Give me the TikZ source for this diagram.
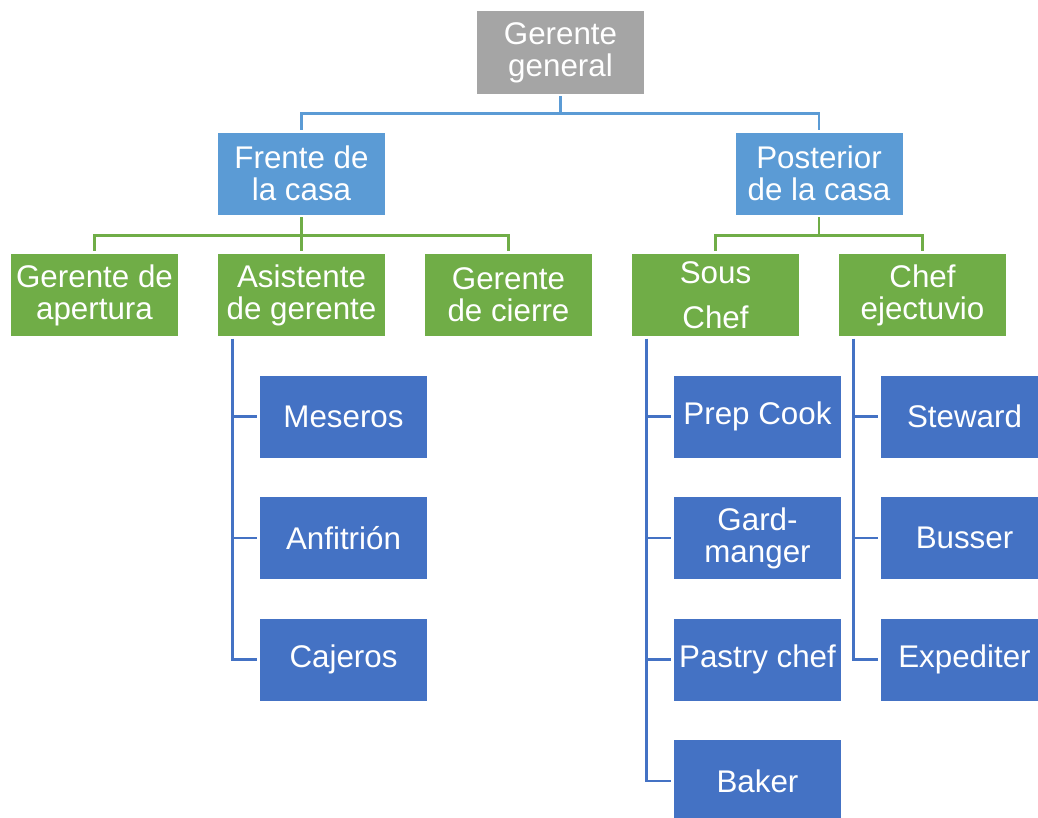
\documentclass[tikz,border=0pt]{standalone}
\usepackage{fontspec}
\setmainfont{Liberation Sans}
\definecolor{grisbox}{HTML}{A5A5A5}
\definecolor{azulbox}{HTML}{5B9BD5}
\definecolor{verdebox}{HTML}{70AD47}
\definecolor{oscurobox}{HTML}{4472C4}

\begin{document}
\begin{tikzpicture}[x=0.75pt, y=-0.75pt]
    \useasboundingbox (0,0) rectangle (1038,817);

    \begin{scope}[every node/.style={rectangle, minimum width=125.25pt, minimum height=61.5pt, inner sep=0pt, align=center, text=white, font=\fontsize{23.5}{24}\selectfont}]
        \node[fill=grisbox] (gg) at (560.5,52.5) {Gerente\\general};

        \node[fill=azulbox] (fc) at (301.5,173.5) {Frente de\\la casa};
        \node[fill=azulbox] (pc) at (819,173.5) {Posterior\\de la casa};

        \node[fill=verdebox] (ga) at (94.5,295) {Gerente de\\apertura};
        \node[fill=verdebox] (ag) at (301.5,295) {Asistente\\de gerente};
        \node[fill=verdebox] (gc) at (508.5,295) {Gerente\\de cierre};
        \node[fill=verdebox] (sc) at (715.5,295) {Sous\\[10pt]Chef};
        \node[fill=verdebox] (ce) at (922.5,295) {Chef\\ejectuvio};

        \node[fill=oscurobox] (mes) at (343.5,416.5) {Meseros};
        \node[fill=oscurobox] (anf) at (343.5,538) {Anfitrión};
        \node[fill=oscurobox] (caj) at (343.5,659.5) {Cajeros};

        \node[fill=oscurobox] (pre) at (757.5,416.5) {Prep Cook};
        \node[fill=oscurobox] (gar) at (757.5,538) {Gard-\\manger};
        \node[fill=oscurobox] (pas) at (757.5,659.5) {Pastry chef};
        \node[fill=oscurobox] (bak) at (757.5,781) {Baker};

        \node[fill=oscurobox] (ste) at (964.5,416.5) {Steward};
        \node[fill=oscurobox] (bus) at (964.5,538) {Busser};
        \node[fill=oscurobox] (exp) at (964.5,659.5) {Expediter};
    \end{scope}

    \begin{scope}[line width=2.2pt, shorten <=2pt, shorten >=2pt]
        \draw[azulbox] (gg.south) -- ++(0,20) -| (fc.north);
        \draw[azulbox] (gg.south) -- ++(0,20) -| (pc.north);

        \draw[verdebox] (fc.south) -- ++(0,21) -| (ga.north);
        \draw[verdebox] (fc.south) -- (ag.north);
        \draw[verdebox] (fc.south) -- ++(0,21) -| (gc.north);
        \draw[verdebox] (pc.south) -- ++(0,21) -| (sc.north);
        \draw[verdebox] (pc.south) -- ++(0,21) -| (ce.north);

        \draw[oscurobox] ([xshift=11.25pt]ag.south west) |- (mes.west);
        \draw[oscurobox] ([xshift=11.25pt]ag.south west) |- (anf.west);
        \draw[oscurobox] ([xshift=11.25pt]ag.south west) |- (caj.west);

        \draw[oscurobox] ([xshift=11.25pt]sc.south west) |- (pre.west);
        \draw[oscurobox] ([xshift=11.25pt]sc.south west) |- (gar.west);
        \draw[oscurobox] ([xshift=11.25pt]sc.south west) |- (pas.west);
        \draw[oscurobox] ([xshift=11.25pt]sc.south west) |- (bak.west);

        \draw[oscurobox] ([xshift=11.25pt]ce.south west) |- (ste.west);
        \draw[oscurobox] ([xshift=11.25pt]ce.south west) |- (bus.west);
        \draw[oscurobox] ([xshift=11.25pt]ce.south west) |- (exp.west);
    \end{scope}
\end{tikzpicture}
\end{document}
